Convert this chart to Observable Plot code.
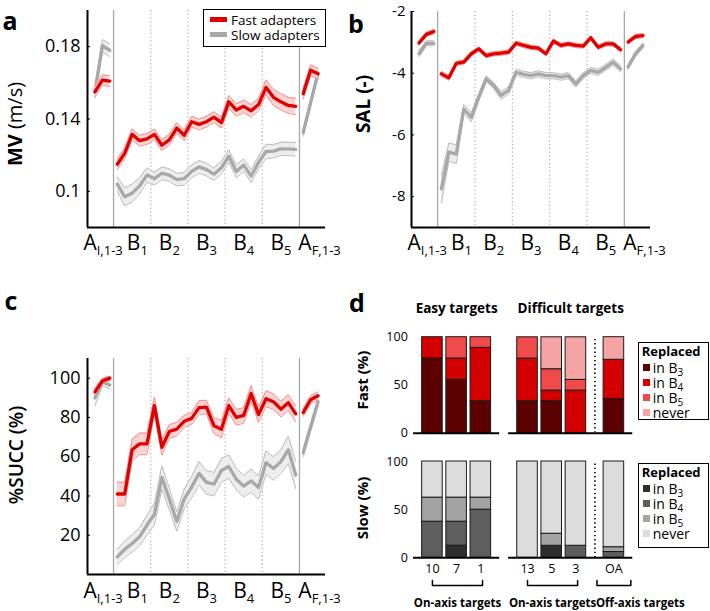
<!DOCTYPE html>
<html><head><meta charset="utf-8">
<script src="https://cdn.jsdelivr.net/npm/d3@7"></script>
<script src="https://cdn.jsdelivr.net/npm/@observablehq/plot@0.6"></script>
<style>
body{margin:0;background:#fff;font-family:"Open Sans",sans-serif;}
#fig{position:relative;width:710px;height:611px;overflow:hidden;background:#fff;}
.legend{position:absolute;border:1.5px solid #000;background:#fff;box-sizing:border-box;color:#000;overflow:visible;}
.lrow{display:flex;align-items:center;white-space:nowrap;}
.sw{display:inline-block;}
sub{font-size:10px;line-height:0;vertical-align:-3px;}
</style></head><body><div id="fig"></div><script>
// ---------------- data: panel a (MV, m/s) ----------------
const mvFastAI = [0.155, 0.1615, 0.161];
const mvFastB  = [0.115,0.121,0.1315,0.128,0.129,0.1315,0.1255,0.1285,0.135,0.131,0.1385,0.137,0.1385,0.141,0.138,0.1495,0.145,0.147,0.1445,0.148,0.1575,0.152,0.1495,0.1475,0.147];
const mvFastAF = [0.154, 0.167, 0.165];
const mvSlowAI = [0.155, 0.1805, 0.178];
const mvSlowB  = [0.104,0.097,0.099,0.103,0.109,0.107,0.110,0.109,0.1065,0.107,0.111,0.1135,0.112,0.1095,0.113,0.1195,0.111,0.1145,0.1085,0.116,0.122,0.1222,0.1235,0.1235,0.1232];
const mvSlowAF = [0.1325, 0.149, 0.1655];
const mvFastSeAI = [0.003,0.003,0.003];
const mvFastSeB  = [0.003,0.003,0.003,0.003,0.003,0.003,0.003,0.003,0.003,0.003,0.003,0.003,0.003,0.003,0.003,0.0035,0.0035,0.0035,0.0035,0.0035,0.0042,0.0045,0.0045,0.0045,0.0045];
const mvFastSeAF = [0.003,0.003,0.003];
const mvSlowSeAI = [0.003,0.0035,0.0035];
const mvSlowSeB  = [0.004,0.005,0.005,0.0045,0.004,0.0035,0.0035,0.0035,0.0035,0.0035,0.0035,0.0035,0.0035,0.0035,0.0035,0.0035,0.0035,0.0035,0.0035,0.0035,0.004,0.0037,0.0037,0.0037,0.0037];
const mvSlowSeAF = [0.002,0.002,0.002];

// ---------------- data: panel b (SAL) ----------------
const salFastAI = [-3.02, -2.74, -2.65];
const salFastB  = [-4.02,-4.15,-3.68,-3.64,-3.37,-3.21,-3.43,-3.37,-3.35,-3.32,-3.03,-3.10,-3.16,-3.19,-3.37,-2.96,-3.10,-3.05,-3.10,-3.12,-2.85,-3.16,-3.05,-3.05,-3.24];
const salFastAF = [-2.99, -2.81, -2.78];
const salSlowAI = [-3.37, -3.03, -3.03];
const salSlowB  = [-7.75,-6.56,-6.62,-5.16,-5.43,-4.78,-4.18,-4.40,-4.72,-4.56,-3.97,-4.04,-4.08,-4.02,-4.08,-4.08,-4.13,-4.08,-4.35,-4.08,-3.91,-3.97,-3.81,-3.64,-3.86];
const salSlowAF = [-3.80, -3.37, -3.10];
const salFastSeAI = [0.07,0.07,0.07];
const salFastSeB  = [0.08,0.08,0.07,0.07,0.07,0.07,0.07,0.07,0.07,0.07,0.07,0.07,0.07,0.07,0.07,0.07,0.07,0.07,0.07,0.07,0.07,0.07,0.07,0.07,0.07];
const salFastSeAF = [0.07,0.07,0.07];
const salSlowSeAI = [0.1,0.08,0.08];
const salSlowSeB  = [0.45,0.3,0.3,0.15,0.15,0.12,0.1,0.1,0.12,0.12,0.1,0.1,0.1,0.1,0.1,0.1,0.1,0.1,0.1,0.1,0.1,0.1,0.1,0.1,0.1];
const salSlowSeAF = [0.08,0.08,0.08];

// ---------------- data: panel c (%SUCC) ----------------
const succFastAI = [93, 98.5, 100];
const succFastB  = [41,41,63.5,66.5,66.5,86,64.8,72.8,74,78,79.5,85,85.2,75.8,74,86,80,81,92.2,81.4,89.5,88,84.2,87.5,81.8];
const succFastAF = [82.5, 89, 91];
const succSlowAI = [90, 98, 96.5];
const succSlowB  = [9,12.8,15.8,19.2,25.2,30.7,49.4,38.5,27,38.4,44.5,51.5,46.9,46,53,55,48.5,45,47.7,44.3,57,54,57.5,63.5,50.7];
const succSlowAF = [62, 75, 88];
const succFastSeAI = [2,1.5,1];
const succFastSeB  = [6,6,5.5,5.5,5.5,4.5,4,3.5,3.5,3,3,3.5,3.5,4,4.5,4,4,4,4,4,4,4,4,4,4];
const succFastSeAF = [2,2,2];
const succSlowSeAI = [4,2,2];
const succSlowSeB  = [4,4,4.5,4.5,5,5.5,6,5.5,5,5,5.5,6,6,6,6,6,5.5,5.5,6,6,6,6,6,7,7];
const succSlowSeAF = [2,2,2];

// ---------------- x labels of line panels ----------------
const phaseLabelBase = ["A","B","B","B","B","B","A"];
const phaseLabelSub  = ["I,1-3","1","2","3","4","5","F,1-3"];
const phaseLabelPos  = [-1.9, 2.7, 7, 12, 17, 22, 27.2];

// ---------------- data: panel d (stacked bars, %) ----------------
const targets   = ["10","7","1","13","5","3","OA"];
const fastB3    = [77.8,55.6,33.3,33.3,33.3,0,35.5];
const fastB4    = [22.2,22.2,55.6,44.4,11.1,44.4,41];
const fastB5    = [0,22.2,11.1,22.2,22.2,11.1,0];
const fastNever = [0,0,0,0,33.3,44.4,23.5];
const slowB3    = [0,12.5,0,0,12.5,0,0];
const slowB4    = [37.5,25,50,0,0,12.5,6];
const slowB5    = [25,25,12.5,0,12.5,0,5];
const slowNever = [37.5,37.5,37.5,100,75,87.5,89];
const replacedLabels = ["in B|3","in B|4","in B|5","never"];
const fastColors = ["#5c0000","#d40000","#f04a4a","#f6a3a3"];
const slowColors = ["#2e2e2e","#5e5e5e","#a3a3a3","#dcdcdc"];

// ---------------- helpers ----------------
const fig = document.getElementById("fig");
const FONT = "'Open Sans', sans-serif";
const baseStyle = {fontFamily: FONT, color: "#000", background: "transparent", overflow: "visible"};
function place(node, left, top) {
  node.style.position = "absolute"; node.style.left = left + "px"; node.style.top = top + "px";
  fig.appendChild(node); return node;
}
function rowsOf(ai, b, af, seAi, seB, seAf) {
  const r = [];
  ai.forEach((v, k) => r.push({i: k - ai.length, v, se: seAi[k], seg: "AI"}));
  b.forEach((v, k) => r.push({i: k, v, se: seB[k], seg: "B"}));
  af.forEach((v, k) => r.push({i: b.length + k, v, se: seAf[k], seg: "AF"}));
  return r;
}
const FAST = {main: "#e00000", edge: "#f29090", fill: "#fbd3d3"};
const SLOW = {main: "#a8a8a8", edge: "#bcbcbc", fill: "#ededed"};
const xDomain = [-4, 28];
const phaseBorders = [-0.5, 24.5];
const blockBorders = [4.5, 9.5, 14.5, 19.5];

function seriesMarks(rows, s) {
  return [
    Plot.areaY(rows, {x: "i", y1: d => d.v - d.se, y2: d => d.v + d.se, z: "seg", fill: s.fill}),
    Plot.lineY(rows, {x: "i", y: d => d.v - d.se, z: "seg", stroke: s.edge, strokeWidth: 1}),
    Plot.lineY(rows, {x: "i", y: d => d.v + d.se, z: "seg", stroke: s.edge, strokeWidth: 1}),
    Plot.lineY(rows, {x: "i", y: "v", z: "seg", stroke: s.main, strokeWidth: 3.3})
  ];
}
function linePanel(o) {
  const svg = Plot.plot({
    width: o.width, height: o.height,
    marginTop: o.mt, marginBottom: o.mb, marginLeft: o.ml, marginRight: o.mr,
    style: baseStyle,
    x: {domain: xDomain, label: null},
    y: {domain: o.yDomain, label: null},
    marks: [
      Plot.ruleX(phaseBorders, {stroke: "#a8a8a8", strokeWidth: 1.3}),
      Plot.ruleX(blockBorders, {stroke: "#9a9a9a", strokeWidth: 1, strokeDasharray: "1.2,2.6"}),
      ...seriesMarks(o.slow, SLOW),
      ...seriesMarks(o.fast, FAST),
      Plot.axisY({ticks: o.yTicks, tickFormat: d => String(d), tickSize: -3, tickPadding: o.tickPad, fontSize: o.tickFont, label: null}),
      Plot.axisX({ticks: phaseLabelPos, tickFormat: d => { const k = phaseLabelPos.indexOf(d); return phaseLabelBase[k] + phaseLabelSub[k]; },
                  tickSize: 0, tickPadding: o.labelPad, fontSize: o.labelFont, label: null}),
      Plot.ruleX([xDomain[0]], {stroke: "#000", strokeWidth: 2}),
      Plot.ruleY([o.yDomain[0]], {stroke: "#000", strokeWidth: 2})
    ]
  });
  // subscripts for the phase labels
  const full = phaseLabelBase.map((b, k) => b + phaseLabelSub[k]);
  d3.select(svg).selectAll('g[aria-label="x-axis tick label"] text').each(function() {
    const t = d3.select(this);
    const k = full.indexOf(t.text());
    if (k < 0) return;
    t.text(null);
    t.append("tspan").text(phaseLabelBase[k]);
    t.append("tspan").attr("font-size", Math.round(o.labelFont * 0.62)).attr("dy", "0.38em").text(phaseLabelSub[k]);
  });
  // y label
  const yl = d3.select(svg).append("text")
    .attr("transform", `translate(${o.yl[0]},${o.yl[1]}) rotate(-90)`)
    .attr("text-anchor", "middle").attr("dy", "0.35em").attr("font-size", o.ylSize).attr("fill", "#000");
  o.ylParts.forEach(([s, w]) => yl.append("tspan").attr("font-weight", w).text(s));
  // panel letter
  d3.select(svg).append("text").attr("x", o.letter[0]).attr("y", o.letter[1])
    .attr("font-size", 25).attr("font-weight", "bold").attr("fill", "#000").text(o.letter[2]);
  return svg;
}

// ---------------- panel a ----------------
place(linePanel({
  width: 355, height: 262, mt: 10, mb: 35, ml: 87, mr: 30,
  yDomain: [0.08, 0.2], yTicks: [0.1, 0.14, 0.18], tickFont: 18, tickPad: 10, labelFont: 21, labelPad: 8,
  fast: rowsOf(mvFastAI, mvFastB, mvFastAF, mvFastSeAI, mvFastSeB, mvFastSeAF),
  slow: rowsOf(mvSlowAI, mvSlowB, mvSlowAF, mvSlowSeAI, mvSlowSeB, mvSlowSeAF),
  yl: [15, 124], ylSize: 20, ylParts: [["MV", "bold"], [" (m/s)", "normal"]],
  letter: [10, 30, "a"]
}), 0, 0);

// ---------------- panel b ----------------
place(linePanel({
  width: 355, height: 262, mt: 11, mb: 35, ml: 56, mr: 60,
  yDomain: [-9, -2], yTicks: [-8, -6, -4, -2], tickFont: 15, tickPad: 9, labelFont: 21, labelPad: 8,
  fast: rowsOf(salFastAI, salFastB, salFastAF, salFastSeAI, salFastSeB, salFastSeAF),
  slow: rowsOf(salSlowAI, salSlowB, salSlowAF, salSlowSeAI, salSlowSeB, salSlowSeAF),
  yl: [8, 104], ylSize: 19, ylParts: [["SAL (-)", "bold"]],
  letter: [1, 33, "b"]
}), 355, 0);

// ---------------- panel c ----------------
place(linePanel({
  width: 355, height: 311, mt: 58, mb: 37, ml: 87, mr: 30,
  yDomain: [0, 110], yTicks: [20, 40, 60, 80, 100], tickFont: 18, tickPad: 10, labelFont: 21, labelPad: 9,
  fast: rowsOf(succFastAI, succFastB, succFastAF, succFastSeAI, succFastSeB, succFastSeAF),
  slow: rowsOf(succSlowAI, succSlowB, succSlowAF, succSlowSeAI, succSlowSeB, succSlowSeAF),
  yl: [16, 155], ylSize: 19, ylParts: [["%SUCC (%)", "600"]],
  letter: [11, 10, "c"]
}), 0, 300);

// ---------------- legend for a ----------------
{
  const lg = document.createElement("div");
  lg.className = "legend";
  lg.style.width = "123px"; lg.style.height = "38px"; lg.style.padding = "2px 0 0 6px"; lg.style.fontSize = "13.5px";
  [["Fast adapters", FAST.main], ["Slow adapters", SLOW.main]].forEach(([t, c]) => {
    const r = document.createElement("div"); r.className = "lrow"; r.style.height = "15px";
    r.innerHTML = `<span class="sw" style="width:17px;height:4.5px;background:${c};margin-right:4px"></span><span>${t}</span>`;
    lg.appendChild(r);
  });
  place(lg, 203, 9);
}

// ---------------- panel d ----------------
const slotOf = {"10": 0, "7": 1, "1": 2, "13": 3.93, "5": 4.93, "3": 5.93, "OA": 7.5};
const barHalf = 0.425;
const dDomain = [-0.77, 8.5];
const groupPad = 0.78;
const axisGroups = [["10", "1"], ["13", "OA"]];
const titleGroups = [{from: "10", to: "1", text: "Easy targets"}, {from: "13", to: "OA", text: "Difficult targets"}];
const bracketGroups = [
  {from: "10", to: "1", text: "On-axis targets", align: "middle"},
  {from: "13", to: "3", text: "On-axis targets", align: "middle"},
  {from: "OA", to: "OA", text: "Off-axis targets", align: "start"}
];
const sepX = (slotOf["3"] + slotOf["OA"]) / 2;

function stackRows(cols, colors) {
  const rows = [];
  targets.forEach((t, k) => {
    let acc = 0;
    cols.forEach((arr, c) => { if (arr[k] > 0) rows.push({t, y1: acc, y2: acc + arr[k], fill: colors[c]}); acc += arr[k]; });
  });
  return rows;
}
function barMarks(rows) {
  return [
    Plot.rect(rows, {x1: d => slotOf[d.t] - barHalf, x2: d => slotOf[d.t] + barHalf, y1: "y1", y2: "y2",
                     fill: "fill", stroke: "#1a1a1a", strokeWidth: 1}),
    Plot.ruleX([sepX], {y1: 0, y2: 100, stroke: "#000", strokeWidth: 1.6, strokeDasharray: "1.4,2.8"}),
    Plot.ruleY(axisGroups, {x1: g => slotOf[g[0]] - groupPad, x2: g => slotOf[g[1]] + groupPad, y: 0, stroke: "#000", strokeWidth: 2}),
    Plot.axisY({ticks: [0, 50, 100], tickSize: 0, tickPadding: 6, fontSize: 12.5, label: null})
  ];
}
function dYLabel(svg, x, y, text) {
  d3.select(svg).append("text").attr("transform", `translate(${x},${y}) rotate(-90)`)
    .attr("text-anchor", "middle").attr("dy", "0.35em").attr("font-size", 15).attr("font-weight", "bold")
    .attr("fill", "#000").text(text);
}
// top: fast adapters
{
  const svg = Plot.plot({
    width: 300, height: 110, marginTop: 6.7, marginBottom: 7.3, marginLeft: 58.3, marginRight: 17.4,
    style: baseStyle,
    x: {domain: dDomain, axis: null, label: null},
    y: {domain: [0, 100], label: null},
    color: {type: "identity"},
    marks: [
      ...barMarks(stackRows([fastB3, fastB4, fastB5, fastNever], fastColors)),
      Plot.text(titleGroups, {x: g => (slotOf[g.from] + slotOf[g.to]) / 2, y: 100, text: "text", dy: -29,
                              fontWeight: "bold", fontSize: 13.5, lineAnchor: "middle"})
    ]
  });
  dYLabel(svg, 8, 50, "Fast (%)");
  d3.select(svg).append("text").attr("x", 2).attr("y", -18).attr("font-size", 25).attr("font-weight", "bold").attr("fill", "#000").text("d");
  place(svg, 355, 330);
}
// bottom: slow adapters
{
  const svg = Plot.plot({
    width: 300, height: 125, marginTop: 6, marginBottom: 22.7, marginLeft: 58.3, marginRight: 17.4,
    style: baseStyle,
    x: {domain: dDomain, label: null},
    y: {domain: [0, 100], label: null},
    color: {type: "identity"},
    marks: [
      ...barMarks(stackRows([slowB3, slowB4, slowB5, slowNever], slowColors)),
      Plot.axisX({ticks: targets.map(t => slotOf[t]), tickFormat: d => targets.find(t => slotOf[t] === d), tickSize: 0, tickPadding: 6, fontSize: 12.5, label: null})
    ]
  });
  dYLabel(svg, 8, 53, "Slow (%)");
  place(svg, 355, 455);
}
// brackets below the slow bars (same x scale)
{
  const bx1 = g => g.from === g.to ? slotOf[g.from] - 0.7 : slotOf[g.from];
  const bx2 = g => g.from === g.to ? slotOf[g.to] + 0.7 : slotOf[g.to] + 0.07;
  const bracketPts = bracketGroups.flatMap((g, k) => [
    {k, x: bx1(g), y: 1}, {k, x: bx1(g), y: 0}, {k, x: bx2(g), y: 0}, {k, x: bx2(g), y: 1}
  ]);
  const svg = Plot.plot({
    width: 300, height: 36, marginTop: 5, marginBottom: 26, marginLeft: 58.3, marginRight: 17.4,
    style: baseStyle,
    x: {domain: dDomain, axis: null, label: null},
    y: {domain: [0, 1], axis: null, label: null},
    marks: [
      Plot.line(bracketPts, {x: "x", y: "y", z: "k", stroke: "#000", strokeWidth: 1.5}),
      Plot.text(bracketGroups.filter(g => g.align === "middle"), {x: g => (bx1(g) + bx2(g)) / 2, y: 0, text: "text", dy: 18,
                fontWeight: "bold", fontSize: 11.5, lineAnchor: "middle"}),
      Plot.text(bracketGroups.filter(g => g.align === "start"), {x: g => bx1(g), y: 0, text: "text", dy: 18, dx: -1,
                textAnchor: "start", fontWeight: "bold", fontSize: 11.5, lineAnchor: "middle"})
    ]
  });
  place(svg, 355, 575);
}
// legends for d
function replacedLegend(left, top, height, colors) {
  const lg = document.createElement("div");
  lg.className = "legend";
  lg.style.width = "71px"; lg.style.height = height + "px"; lg.style.padding = "0 0 0 3px";
  const title = document.createElement("div");
  title.textContent = "Replaced"; title.style.fontWeight = "bold"; title.style.fontSize = "13px";
  title.style.lineHeight = "15px"; title.style.marginBottom = "1px"; title.style.marginTop = "1px";
  lg.appendChild(title);
  replacedLabels.forEach((lab, k) => {
    const [a, s] = lab.split("|");
    const r = document.createElement("div"); r.className = "lrow"; r.style.height = "15px"; r.style.fontSize = "14px";
    r.innerHTML = `<span class="sw" style="width:7px;height:7px;background:${colors[k]};margin-right:3px;margin-left:1px"></span><span style="line-height:15px">${a}${s ? `<sub>${s}</sub>` : ""}</span>`;
    lg.appendChild(r);
  });
  place(lg, left, top);
}
replacedLegend(637.7, 341.7, 78.3, fastColors);
replacedLegend(637.7, 463, 85, slowColors);
</script></body></html>
